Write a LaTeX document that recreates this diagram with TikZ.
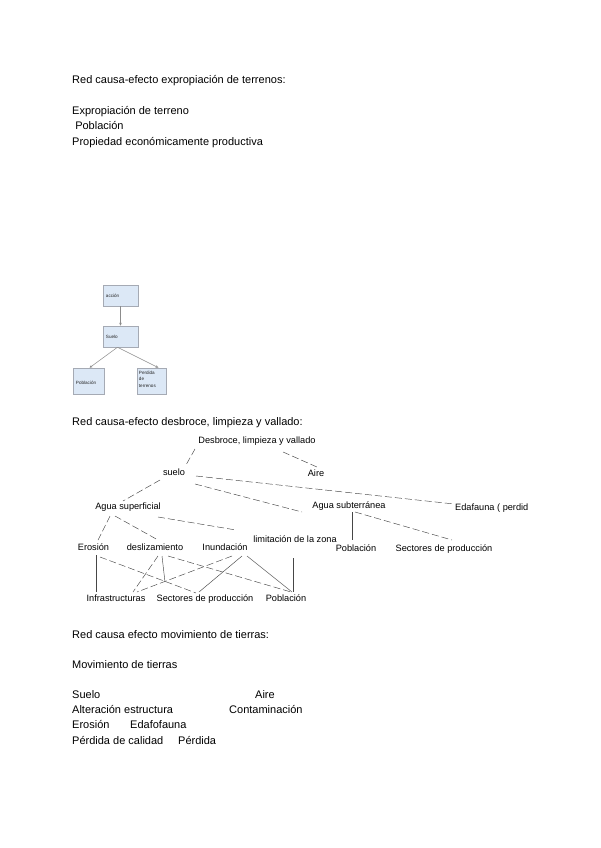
\documentclass[tikz,border=0pt]{standalone}
\usepackage{fontspec}
\setmainfont{Liberation Sans}
\usetikzlibrary{arrows.meta}
\definecolor{boxblue}{RGB}{220,232,246}
\definecolor{boxedge}{RGB}{165,170,180}
\definecolor{lnk}{RGB}{70,70,70}
\tikzset{
  txt/.style={anchor=base west,inner sep=0pt,font=\fontsize{11}{13}\selectfont},
  lbl/.style={inner sep=0pt,text height=6.6pt,text depth=1.9pt,font=\fontsize{9.2}{11}\selectfont},
  dsh/.style={draw=lnk,line width=0.45pt,dash pattern=on 7pt off 3pt},
  sld/.style={draw=lnk,line width=0.45pt},
  sbox/.style={draw=boxedge,fill=boxblue,line width=0.5pt,inner sep=0pt},
  stxt/.style={inner sep=0pt,align=left,font=\fontsize{4.6}{5.4}\selectfont,text=black!85},
  sarr/.style={draw=black!45,line width=0.5pt,-{Stealth[length=3pt,width=2.6pt]}}
}
\begin{document}
\begin{tikzpicture}[x=1pt,y=-1pt]
\useasboundingbox (0,0) rectangle (600,848);
\fill[white] (0,0) rectangle (600,848);

% ---- section 1 text
\node[txt] (t1) at (72,84) {Red causa-efecto expropiación de terrenos:};
\node[txt] (t2) at (72,114) {Expropiación de terreno};
\node[txt] (t3) at (72,129) {\ Población};
\node[txt] (t4) at (72,145) {Propiedad económicamente productiva};

% ---- small box diagram
\node[sbox,minimum width=35pt,minimum height=21pt] (bacc) at (120.5,295.5) {};
\node[sbox,minimum width=35pt,minimum height=21pt] (bsue) at (120.5,336.5) {};
\node[sbox,minimum width=31pt,minimum height=26pt] (bpob) at (88.5,381) {};
\node[sbox,minimum width=29pt,minimum height=26pt] (bper) at (151.5,381) {};
\node[stxt,anchor=west] (tacc) at ([shift={(3,0)}]bacc.west) {acción};
\node[stxt,anchor=west] (tsue) at ([shift={(3,0)}]bsue.west) {Suelo};
\node[stxt,anchor=west] (tpob) at ([shift={(3,2)}]bpob.west) {Población};
\node[stxt,anchor=north west] (tper) at ([shift={(2,3)}]bper.north west) {Perdida\\[1pt]de\\[1pt]terrenos};
\draw[sarr] (bacc.south) -- (bsue.north);
\draw[sarr] ([xshift=-3pt]bsue.south) -- ([xshift=1pt]bpob.north);
\draw[sarr] ([xshift=-3pt]bsue.south) -- ([xshift=7pt]bper.north);

% ---- section 2
\node[txt] (t5) at (72,425) {Red causa-efecto desbroce, limpieza y vallado:};
\node[lbl] (des) at (257,441) {Desbroce, limpieza y vallado};
\node[lbl] (aire) at (316,474) {Aire};
\node[lbl] (suelo) at (174,473) {suelo};
\node[lbl] (asup) at (128,507) {Agua superficial};
\node[lbl] (asub) at (349,506) {Agua subterránea};
\node[lbl,anchor=west] (edaf) at (455,508) {Edafauna ( perdid};
\node[lbl] (eros) at (93.5,548) {Erosión};
\node[lbl] (desl) at (155,548) {deslizamiento};
\node[lbl] (inun) at (225,548) {Inundación};
\node[lbl] (limi) at (295,540) {limitación de la zona};
\node[lbl] (pob1) at (356,549) {Población};
\node[lbl] (sec1) at (444,549) {Sectores de producción};
\node[lbl] (infra) at (116,599) {Infrastructuras};
\node[lbl] (sec2) at (205,599) {Sectores de producción};
\node[lbl] (pob2) at (286,599) {Población};

\draw[dsh] ([shift={(-62,8)}]des.center) -- ([shift={(12,-8)}]suelo.center);
\draw[dsh] ([shift={(26,11)}]des.center) -- ([shift={(1,-7)}]aire.center);
\draw[dsh] ([shift={(-14,7)}]suelo.center) -- ([shift={(-5,-6)}]asup.center);
\draw[dsh] ([shift={(22,3)}]suelo.center) -- ([shift={(-1,-4)}]edaf.west);
\draw[dsh] ([shift={(21,11)}]suelo.center) -- ([shift={(-47,6)}]asub.center);
\draw[dsh] ([shift={(-18,9)}]asup.center) -- ([shift={(4.5,-8)}]eros.center);
\draw[dsh] ([shift={(-13,9)}]asup.center) -- ([shift={(3,-8)}]desl.center);
\draw[dsh] ([shift={(30,10)}]asup.center) -- ([shift={(-59,-10)}]limi.center);
\draw[sld] ([shift={(3,6)}]asub.center) -- ([shift={(-4,-9)}]pob1.center);
\draw[dsh] ([shift={(6,6)}]asub.center) -- ([shift={(8,-9)}]sec1.center);
\draw[sld] ([shift={(2.5,7)}]eros.center) -- ([shift={(-20,-7)}]infra.center);
\draw[dsh] ([shift={(6.5,9)}]eros.center) -- ([shift={(-9,-6)}]sec2.center);
\draw[dsh] ([shift={(3,8)}]desl.center) -- ([shift={(17,-7)}]infra.center);
\draw[sld] ([shift={(7,8)}]desl.center) -- ([shift={(-40,-17)}]sec2.center);
\draw[dsh] ([shift={(13,8)}]desl.center) -- ([shift={(5,-7)}]pob2.center);
\draw[dsh] ([shift={(7,8)}]inun.center) -- ([shift={(21,-7)}]infra.center);
\draw[sld] ([shift={(17,8)}]inun.center) -- ([shift={(-6,-7)}]sec2.center);
\draw[sld] ([shift={(22,8)}]inun.center) -- ([shift={(6,-7)}]pob2.center);
\draw[sld] ([shift={(-2,18)}]limi.center) -- ([shift={(7,-7)}]pob2.center);

% ---- section 3 text
\node[txt] (t6) at (72,638) {Red causa efecto movimiento de tierras:};
\node[txt] (t7) at (72,668) {Movimiento de tierras};
\node[txt] (t8) at (72,698) {Suelo};
\node[txt] (t9) at (255,698) {Aire};
\node[txt] (t10) at (72,713) {Alteración estructura};
\node[txt] (t11) at (229,713) {Contaminación};
\node[txt] (t12) at (72,728) {Erosión};
\node[txt] (t13) at (130,728) {Edafofauna};
\node[txt] (t14) at (72,744) {Pérdida de calidad};
\node[txt] (t15) at (178,744) {Pérdida};
\end{tikzpicture}
\end{document}
